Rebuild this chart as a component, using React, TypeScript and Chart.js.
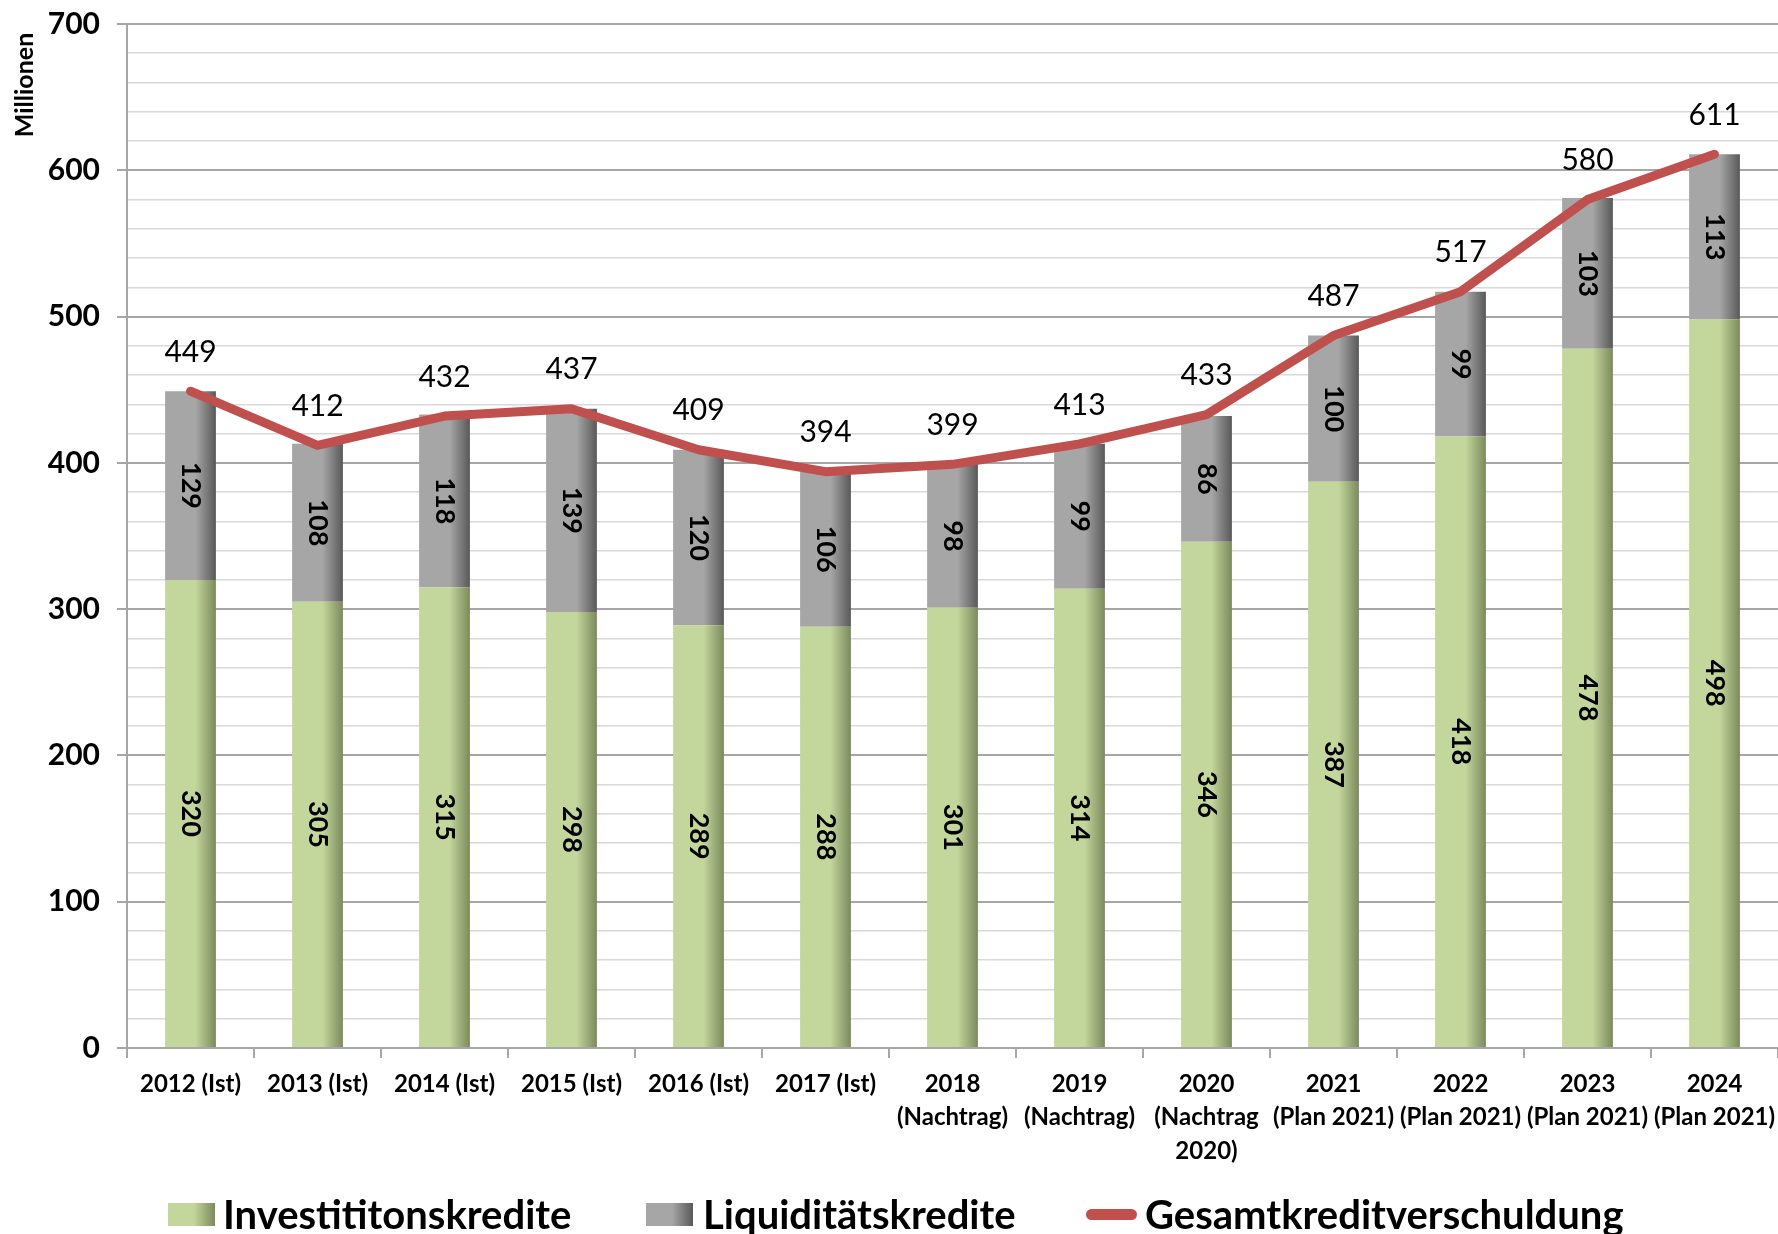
import React, { useEffect, useRef } from 'react';
import { Chart, registerables } from 'chart.js';

Chart.register(...registerables);

const categories: string[][] = [
  ['2012 (Ist)'],
  ['2013 (Ist)'],
  ['2014 (Ist)'],
  ['2015 (Ist)'],
  ['2016 (Ist)'],
  ['2017 (Ist)'],
  ['2018', '(Nachtrag)'],
  ['2019', '(Nachtrag)'],
  ['2020', '(Nachtrag', '2020)'],
  ['2021', '(Plan 2021)'],
  ['2022', '(Plan 2021)'],
  ['2023', '(Plan 2021)'],
  ['2024', '(Plan 2021)'],
];

const investitionskredite = [320, 305, 315, 298, 289, 288, 301, 314, 346, 387, 418, 478, 498];
const liquiditaetskredite = [129, 108, 118, 139, 120, 106, 98, 99, 86, 100, 99, 103, 113];
const gesamtkreditverschuldung = [449, 412, 432, 437, 409, 394, 399, 413, 433, 487, 517, 580, 611];

const yMin = 0;
const yMax = 700;
const yMinorStep = 20;
const yMajorStep = 100;

const legendLabels = ['Investititonskredite', 'Liquiditätskredite', 'Gesamtkreditverschuldung'];
const yTitle = 'Millionen';

const FONT = 'Lato, "Open Sans", "DejaVu Sans", sans-serif';
const GREEN = '#c3d69b';
const GREEN_DARK = '#7b8a5c';
const GRAY = '#a6a6a6';
const GRAY_DARK = '#595959';
const RED = '#c0504d';
const BAR_PCT = 0.4;

function barGradient(light: string, dark: string) {
  return (ctx: any) => {
    const chart = ctx.chart;
    const xs = chart.scales && chart.scales.x;
    if (!xs || ctx.dataIndex === undefined || ctx.type !== 'data') return light;
    const cx = xs.getPixelForValue(ctx.dataIndex);
    const w = (xs.width / categories.length) * BAR_PCT;
    if (!isFinite(cx) || !isFinite(w) || w <= 0) return light;
    const g = chart.ctx.createLinearGradient(cx - w / 2, 0, cx + w / 2, 0);
    g.addColorStop(0, light);
    g.addColorStop(0.6, light);
    g.addColorStop(1, dark);
    return g;
  };
}

const labelPlugin = {
  id: 'valueLabels',
  afterDatasetsDraw(chart: any) {
    const ctx = chart.ctx;
    ctx.save();
    ctx.fillStyle = '#000';
    ctx.textAlign = 'center';
    ctx.textBaseline = 'middle';
    ctx.font = `bold 27px ${FONT}`;
    [0, 1].forEach((di) => {
      const meta = chart.getDatasetMeta(di);
      const data = chart.data.datasets[di].data as number[];
      meta.data.forEach((el: any, i: number) => {
        const p = el.getProps(['x', 'y', 'base'], true);
        ctx.save();
        ctx.translate(p.x, (p.y + p.base) / 2);
        ctx.rotate(Math.PI / 2);
        ctx.fillText(String(data[i]), 0, 0);
        ctx.restore();
      });
    });
    const lm = chart.getDatasetMeta(2);
    const totals = chart.data.datasets[2].data as number[];
    ctx.font = `30px ${FONT}`;
    lm.data.forEach((pt: any, i: number) => {
      const p = pt.getProps(['x', 'y'], true);
      ctx.fillText(String(totals[i]), p.x, p.y - 39);
    });
    ctx.restore();
  },
};

const yTitlePlugin = {
  id: 'yTitleTop',
  afterDraw(chart: any) {
    const ctx = chart.ctx;
    ctx.save();
    ctx.translate(25, 85);
    ctx.rotate(-Math.PI / 2);
    ctx.font = `bold 25px ${FONT}`;
    ctx.fillStyle = '#000';
    ctx.textAlign = 'center';
    ctx.textBaseline = 'middle';
    ctx.fillText(yTitle, 0, 0);
    ctx.restore();
  },
};

export default function App() {
  const ref = useRef<HTMLCanvasElement | null>(null);

  useEffect(() => {
    document.body.style.margin = '0';
    if (!ref.current) return;
    const chart = new Chart(ref.current, {
      type: 'bar',
      data: {
        labels: categories,
        datasets: [
          {
            label: legendLabels[0],
            data: investitionskredite,
            backgroundColor: barGradient(GREEN, GREEN_DARK),
            stack: 'bars',
            order: 2,
            barPercentage: BAR_PCT,
            categoryPercentage: 1,
          },
          {
            label: legendLabels[1],
            data: liquiditaetskredite,
            backgroundColor: barGradient(GRAY, GRAY_DARK),
            stack: 'bars',
            order: 2,
            barPercentage: BAR_PCT,
            categoryPercentage: 1,
          },
          {
            type: 'line',
            label: legendLabels[2],
            data: gesamtkreditverschuldung,
            borderColor: RED,
            backgroundColor: RED,
            borderWidth: 9,
            pointRadius: 0,
            tension: 0,
            borderCapStyle: 'round',
            borderJoinStyle: 'round',
            stack: 'line',
            order: 1,
          } as any,
        ],
      },
      options: {
        responsive: false,
        animation: false,
        layout: { padding: { top: 24, left: 0, right: 0, bottom: 0 } },
        plugins: {
          legend: { display: false },
          tooltip: { enabled: false },
        },
        scales: {
          x: {
            stacked: true,
            offset: true,
            grid: {
              display: true,
              drawOnChartArea: false,
              offset: true,
              color: '#a6a6a6',
              lineWidth: 2,
              tickLength: 10,
            },
            border: { color: '#a6a6a6', width: 2 },
            ticks: {
              color: '#000',
              font: { family: FONT, size: 24, weight: 'bold', lineHeight: 1.4 },
              maxRotation: 0,
              minRotation: 0,
              autoSkip: false,
              padding: 9,
            },
            afterFit: (scale: any) => {
              scale.height = 186;
              scale.paddingLeft = 0;
              scale.paddingRight = 0;
            },
          },
          y: {
            stacked: true,
            min: yMin,
            max: yMax,
            grid: {
              color: (c: any) => (c.tick && c.tick.value % yMajorStep === 0 ? '#a6a6a6' : '#d9d9d9'),
              lineWidth: (c: any) => (c.tick && c.tick.value % yMajorStep === 0 ? 2 : 1.6),
              tickColor: (c: any) => (c.tick && c.tick.value % yMajorStep === 0 ? '#a6a6a6' : 'rgba(0,0,0,0)'),
              tickLength: 10,
            },
            border: { color: '#a6a6a6', width: 2 },
            ticks: {
              stepSize: yMinorStep,
              autoSkip: false,
              color: '#000',
              padding: 17,
              font: { family: FONT, size: 30, weight: 'bold' },
              callback: (v: any) => (Number(v) % yMajorStep === 0 ? String(v) : ''),
            },
            afterFit: (scale: any) => {
              scale.width = 127;
              scale.paddingTop = 0;
              scale.paddingBottom = 0;
            },
          },
        },
      },
      plugins: [labelPlugin, yTitlePlugin],
    });
    return () => chart.destroy();
  }, []);

  const legendText: React.CSSProperties = {
    position: 'absolute',
    top: 1190,
    fontFamily: FONT,
    fontWeight: 'bold',
    fontSize: 40,
    lineHeight: '48px',
    color: '#000',
    whiteSpace: 'nowrap',
  };
  const box: React.CSSProperties = { position: 'absolute', top: 1203, width: 47, height: 23 };

  return (
    <div style={{ position: 'relative', width: 1778, height: 1234, overflow: 'hidden', background: '#fff' }}>
      <canvas ref={ref} width={1778} height={1234} style={{ display: 'block' }} />
      <div style={{ ...box, left: 168, background: `linear-gradient(to right, ${GREEN} 55%, ${GREEN_DARK})` }} />
      <div style={{ ...legendText, left: 223 }}>{legendLabels[0]}</div>
      <div style={{ ...box, left: 646, background: `linear-gradient(to right, ${GRAY} 55%, ${GRAY_DARK})` }} />
      <div style={{ ...legendText, left: 703 }}>{legendLabels[1]}</div>
      <div style={{ position: 'absolute', left: 1086, top: 1209, width: 51, height: 11, borderRadius: 6, background: RED }} />
      <div style={{ ...legendText, left: 1145 }}>{legendLabels[2]}</div>
    </div>
  );
}
